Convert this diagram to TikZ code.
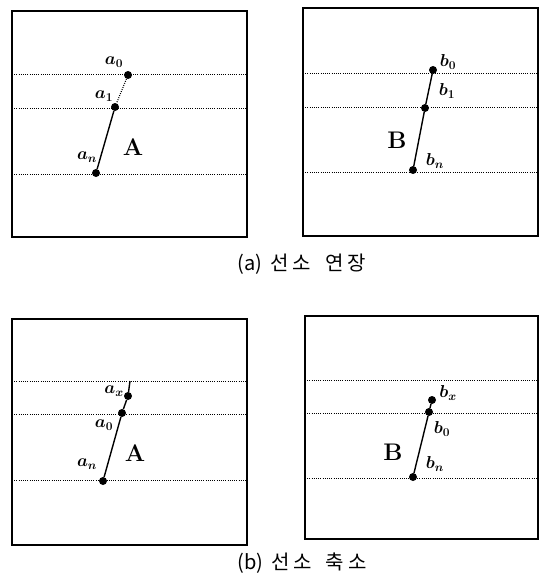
\documentclass[tikz,border=0pt]{standalone}
\usepackage{fontspec}
\newfontfamily\krfont{Noto Sans CJK KR}
\begin{document}
\begin{tikzpicture}[x=1pt,y=-1pt,
  dot/.style={circle,fill=black,inner sep=0pt,minimum size=8pt},
  lbl/.style={inner sep=0pt,font=\fontsize{17}{17}\selectfont\boldmath},
  big/.style={inner sep=0pt,font=\fontsize{24}{24}\selectfont\bfseries},
  guide/.style={line width=0.9pt,dash pattern=on 0.9pt off 1.3pt},
  frame/.style={line width=1.3pt},
  seg/.style={line width=1.4pt},
  captxt/.style={inner sep=0pt,font=\krfont\fontsize{20}{20}\selectfont}]
\useasboundingbox (0,0) rectangle (540,578);
% ---- (a) left
\draw[frame] (12,11) rectangle (247,237);
\coordinate (al1) at (12,74);  \coordinate (ar1) at (247,74);
\coordinate (al2) at (12,108); \coordinate (ar2) at (247,108);
\coordinate (al3) at (12,174); \coordinate (ar3) at (247,174);
\draw[guide] (al1) -- (ar1); \draw[guide] (al2) -- (ar2); \draw[guide] (al3) -- (ar3);
\node[dot] (a0) at (128,75) {};
\node[dot] (a1) at (115,107) {};
\node[dot] (an) at (96,173) {};
\draw[guide,line width=1.1pt] (a0) -- (a1);
\draw[seg] (a1) -- (an);
\node[lbl] (la0) at (114,62) {$a_0$};
\node[lbl] (la1) at (104,96) {$a_1$};
\node[lbl] (lan) at (87,157) {$a_n$};
\node[big] (A1) at (133,147) {A};
% ---- (a) right
\draw[frame] (303,8) rectangle (538,236);
\coordinate (bl1) at (303,73);  \coordinate (br1) at (538,73);
\coordinate (bl2) at (303,107); \coordinate (br2) at (538,107);
\coordinate (bl3) at (303,172); \coordinate (br3) at (538,172);
\draw[guide] (bl1) -- (br1); \draw[guide] (bl2) -- (br2); \draw[guide] (bl3) -- (br3);
\node[dot] (b0) at (433,70) {};
\node[dot] (b1) at (425,108) {};
\node[dot] (bn) at (413,170) {};
\draw[seg] (b0) -- (b1) -- (bn);
\node[lbl] (lb0) at (448,62) {$b_0$};
\node[lbl] (lb1) at (447,91) {$b_1$};
\node[lbl] (lbn) at (435,161) {$b_n$};
\node[big] (B1) at (397,140) {B};
\node[captxt] (capa) at (302,264) {(a)\hspace{8pt}선\hspace{4pt}소\hspace{14pt}연\hspace{4pt}장};
% ---- (b) left
\draw[frame] (12,319) rectangle (247,545);
\coordinate (cl1) at (12,381);  \coordinate (cr1) at (247,381);
\coordinate (cl2) at (12,414);  \coordinate (cr2) at (247,414);
\coordinate (cl3) at (12,480);  \coordinate (cr3) at (247,480);
\draw[guide] (cl1) -- (cr1); \draw[guide] (cl2) -- (cr2); \draw[guide] (cl3) -- (cr3);
\coordinate (ctop) at (130,381);
\node[dot] (ax) at (128,396) {};
\node[dot] (c0) at (122,413) {};
\node[dot] (cn) at (103,481) {};
\draw[seg] (ctop) -- (ax) -- (c0) -- (cn);
\node[lbl] (lax) at (114,391) {$a_x$};
\node[lbl] (lc0) at (104,425) {$a_0$};
\node[lbl] (lcn) at (87,464) {$a_n$};
\node[big] (A2) at (135,453) {A};
% ---- (b) right
\draw[frame] (305,316) rectangle (538,539);
\coordinate (dl1) at (305,380); \coordinate (dr1) at (538,380);
\coordinate (dl2) at (305,413); \coordinate (dr2) at (538,413);
\coordinate (dl3) at (305,478); \coordinate (dr3) at (538,478);
\draw[guide] (dl1) -- (dr1); \draw[guide] (dl2) -- (dr2); \draw[guide] (dl3) -- (dr3);
\node[dot] (bx) at (432,400) {};
\node[dot] (d0) at (429,412) {};
\node[dot] (dn) at (413,477) {};
\draw[seg] (bx) -- (d0) -- (dn);
\node[lbl] (lbx) at (448,393) {$b_x$};
\node[lbl] (ld0) at (442,429) {$b_0$};
\node[lbl] (ldn) at (435,464) {$b_n$};
\node[big] (B2) at (393,452) {B};
\node[captxt] (capb) at (302,563) {(b)\hspace{8pt}선\hspace{4pt}소\hspace{14pt}축\hspace{4pt}소};
\end{tikzpicture}
\end{document}
